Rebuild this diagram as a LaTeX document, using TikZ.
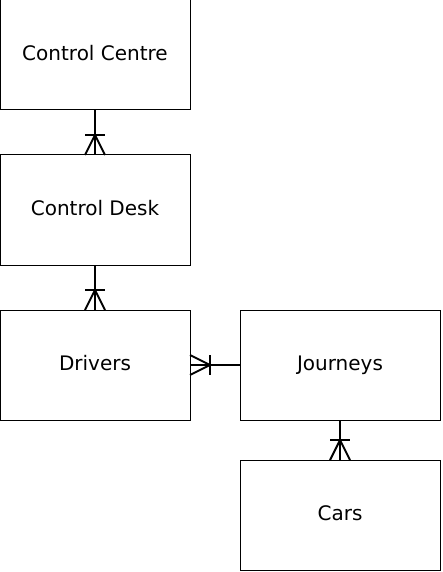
\documentclass[tikz,border=0pt]{standalone}
\usepackage{fontspec}
\setmainfont{DejaVu Sans}
\usetikzlibrary{positioning,decorations.markings}
\tikzset{
  entity/.style={draw=black,line width=1pt,fill=white,minimum width=190pt,minimum height=110pt,inner sep=0pt,outer sep=0pt,text height=15pt,text depth=4pt,font=\fontsize{20}{24}\selectfont},
  relation/.style={draw=black,line width=2pt},
  onemany/.style={relation,postaction={decorate},
    decoration={markings,mark=at position 1 with {
      \draw[line width=2pt] (0pt,-10pt) -- (-20pt,0pt) -- (0pt,10pt);
      \draw[line width=2pt] (-20pt,-10pt) -- (-20pt,10pt);}}}
}
\begin{document}
\begin{tikzpicture}[x=1pt,y=-1pt]
  \useasboundingbox (0,0) rectangle (442,572);
  \node[entity] (centre) at (95,55) {Control Centre};
  \node[entity,below=45pt of centre] (desk) {Control Desk};
  \node[entity,below=45pt of desk] (drivers) {Drivers};
  \node[entity,minimum width=200pt,right=50pt of drivers] (journeys) {Journeys};
  \node[entity,minimum width=200pt,below=40pt of journeys] (cars) {Cars};
  \draw[onemany] (centre.south) -- (desk.north);
  \draw[onemany] (desk.south) -- (drivers.north);
  \draw[onemany] (journeys.west) -- (drivers.east);
  \draw[onemany] (journeys.south) -- (cars.north);
\end{tikzpicture}
\end{document}
